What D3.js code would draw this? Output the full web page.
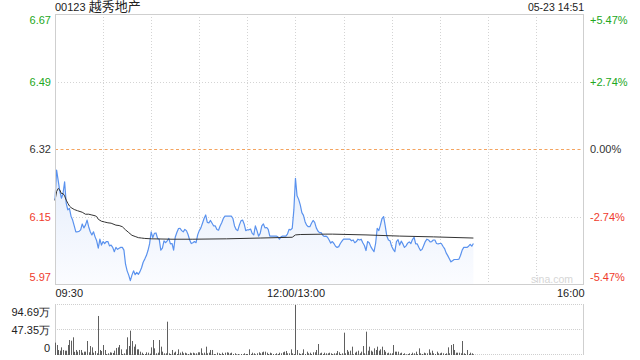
<!DOCTYPE html>
<html><head><meta charset="utf-8">
<script src="https://cdn.jsdelivr.net/npm/d3@7"></script>
<style>
body{margin:0;background:#fff}
svg{display:block;font-family:"Liberation Sans",Arial,"Noto Sans CJK SC",sans-serif}
</style>
</head><body><svg id="c" width="640" height="360"></svg>
<script>
// ---------- data ----------
const stockCode = "00123";
const stockName = "越秀地产";
const stamp = "05-23 14:51";
const prevClose = 6.32;
const pctRange = 0.0547;
const totalMinutes = 330; // 09:30-12:00 + 13:00-16:00
const priceTickLabels = ["5.97", "6.15", "6.32", "6.49", "6.67"];
const pctTickLabels = ["-5.47%", "-2.74%", "0.00%", "+2.74%", "+5.47%"];
const timeTickMinutes = [0, 150, 330];
const timeTickLabels = ["09:30", "12:00/13:00", "16:00"];
const volMax = 94.69; // 万
const volTickLabels = ["0", "47.35万", "94.69万"];

// minute-by-minute price (minute index from 09:30, lunch removed)
const prices = [
6.189,6.266,6.239,6.212,6.194,6.206,6.236,6.181,6.164,6.168,
6.148,6.138,6.123,6.108,6.108,6.109,6.113,6.128,6.118,6.125,
6.138,6.121,6.108,6.100,6.108,6.095,6.085,6.066,6.089,6.074,
6.083,6.078,6.083,6.083,6.072,6.074,6.068,6.057,6.068,6.063,
6.066,6.068,6.068,6.061,6.025,6.008,5.997,5.983,5.997,6.008,
5.998,6.004,5.999,6.006,6.016,6.030,6.038,6.047,6.060,6.077,
6.108,6.093,6.104,6.105,6.091,6.089,6.061,6.066,6.085,6.080,
6.085,6.091,6.077,6.078,6.061,6.094,6.106,6.116,6.117,6.111,
6.108,6.114,6.111,6.101,6.087,6.078,6.080,
6.083,6.080,6.100,
6.111,6.118,6.130,6.142,6.151,6.132,6.131,6.137,6.130,6.123,
6.123,6.114,6.112,6.123,6.131,6.142,6.148,6.148,6.148,6.148,
6.148,6.142,6.123,6.114,6.111,6.125,6.136,6.138,6.128,6.111,
6.113,6.113,6.115,6.104,6.100,6.123,6.111,6.097,6.104,6.123,
6.128,6.118,6.119,6.114,6.097,6.097,6.097,6.097,6.097,6.095,
6.089,6.095,6.097,6.097,6.097,6.102,6.114,6.113,6.117,6.164,
6.245,6.200,6.191,6.177,6.157,6.150,6.134,6.125,6.121,6.121,
6.130,6.137,6.132,6.118,6.110,6.106,6.106,6.099,6.096,6.097,
6.094,6.087,6.079,6.083,6.078,
6.071,6.068,6.070,6.078,6.084,
6.089,6.089,6.089,6.089,6.089,6.085,6.087,6.080,6.083,6.089,
6.087,6.089,6.080,6.073,6.060,6.083,6.080,6.070,6.063,6.057,
6.078,6.117,6.111,6.125,6.142,6.147,6.123,6.097,6.087,6.085,
6.071,6.063,6.057,6.083,6.088,6.074,6.084,6.077,6.068,6.072,
6.079,6.082,6.078,6.088,6.094,6.077,6.077,6.068,6.060,6.063,
6.073,6.083,6.089,6.087,6.082,6.083,6.087,6.087,6.078,6.077,
6.078,6.078,6.071,6.065,6.054,6.047,6.039,6.031,6.034,6.037,
6.037,6.037,6.038,6.048,6.061,6.068,6.068,6.068,6.071,6.076,
6.071,6.078
];

// average-price line, read at its turning points
const avgMinutes = [0,1,2,3,4,5,6,7,8,9,10,12,14,17,19,21,23,25,26,27,29,31,33,35,38,40,42,43,44,46,48,50,52,54,56,60,73,86,107,128,148,150,153,169,173,194,215,236,261];
const avgPrices = [6.188,6.211,6.219,6.215,6.206,6.206,6.200,6.189,6.181,6.174,6.170,6.165,6.162,6.158,6.153,6.153,6.151,6.149,6.147,6.140,6.135,6.133,6.131,6.130,6.125,6.124,6.121,6.117,6.113,6.106,6.099,6.096,6.093,6.092,6.091,6.090,6.089,6.089,6.090,6.092,6.094,6.100,6.101,6.102,6.102,6.100,6.097,6.095,6.092];

// minute volume, 万股
const volumes = [
23.4,18.9,9.5,8.2,14.5,9.5,8.2,8.2,18.9,28.4,
27.1,33.5,6.0,9.5,6.3,9.5,9.5,4.4,6.3,6.3,
26.5,5.1,17.0,14.5,4.4,7.6,3.2,73.9,9.5,7.6,
18.9,9.5,1.9,3.2,5.1,4.4,3.8,8.2,13.3,14.5,
18.9,10.7,1.9,3.2,10.7,33.5,17.0,46.1,26.5,15.8,
20.2,10.7,10.7,6.3,4.4,1.9,1.9,5.1,4.4,2.5,
14.5,28.4,12.6,3.2,4.4,28.4,15.8,6.3,3.2,3.2,
63.1,3.2,1.9,9.5,4.4,6.3,1.9,10.7,4.4,6.3,
3.2,4.4,3.2,1.9,4.4,3.2,4.4,
3.2,3.2,5.1,5.1,12.6,3.2,4.4,15.8,3.2,4.4,
9.5,9.5,1.9,1.3,4.4,3.2,1.9,4.4,1.9,4.4,
5.1,4.4,3.2,4.4,1.9,3.2,1.3,1.9,0.6,1.9,
1.3,3.2,1.9,1.9,10.7,1.9,4.4,3.2,1.3,3.2,
5.1,3.2,5.1,6.3,6.3,4.4,1.9,4.4,3.2,1.9,
1.3,3.2,1.9,4.4,3.2,5.1,6.3,7.6,3.2,3.2,
10.7,3.2,1.9,94.69,9.5,3.2,1.9,3.2,10.7,1.9,
6.3,3.2,4.4,1.9,5.1,5.1,9.5,20.8,3.2,4.4,
1.9,4.4,3.2,3.2,4.4,3.2,1.9,3.2,
3.2,7.6,5.1,1.9,3.2,42.3,3.2,9.5,6.3,8.2,
15.8,1.3,4.4,6.3,8.2,3.2,6.3,17.0,3.2,44.2,
8.2,15.8,8.2,6.3,12.6,9.5,15.8,8.2,10.7,15.8,
9.5,6.3,3.2,4.4,3.2,3.2,18.9,6.3,6.3,6.3,
3.2,4.4,1.9,3.2,1.3,1.9,3.2,1.9,4.4,3.2,
6.3,1.9,12.6,3.2,1.9,4.4,3.2,3.2,10.7,4.4,
8.2,3.2,1.9,6.3,3.2,3.2,4.4,3.2,1.9,3.2,
14.5,3.2,18.9,20.8,9.5,4.4,4.4,4.4,3.2,26.5,
3.2,1.9,9.5,1.9,4.4,3.2,1.3
];

// ---------- colours ----------
const UP = "#22a722", DOWN = "#ef3b2c", FLAT = "#333";
const colorFor = i => i < 2 ? DOWN : (i > 2 ? UP : FLAT);

// ---------- layout ----------
const L = 55, R = 584, T = 14, B = 284, VT = 305, VB = 355;
const svg = d3.select("#c");

const x = d3.scaleLinear().domain([0, totalMinutes]).range([L, R]);
const y = d3.scaleLinear().domain([prevClose * (1 - pctRange), prevClose * (1 + pctRange)]).range([B, T]);
const yv = d3.scaleLinear().domain([0, volMax]).range([VB, VT]);
const priceTicks = [-2, -1, 0, 1, 2].map(k => prevClose * (1 + k * pctRange / 2));

// gradient
const defs = svg.append("defs");
const grad = defs.append("linearGradient").attr("id", "fillg")
  .attr("gradientUnits", "userSpaceOnUse").attr("x1", 0).attr("x2", 0).attr("y1", 160).attr("y2", B);
grad.append("stop").attr("offset", 0).attr("stop-color", "#e3ecfb");
grad.append("stop").attr("offset", 1).attr("stop-color", "#fbfcff");

// ---------- grid main ----------
const grid = svg.append("g");
grid.selectAll("line.v").data(d3.range(30, totalMinutes, 30)).join("line")
  .attr("x1", d => Math.round(x(d)) + 0.5).attr("x2", d => Math.round(x(d)) + 0.5)
  .attr("y1", T).attr("y2", B)
  .attr("stroke", "#d4d4d4").attr("stroke-dasharray", "1,2");
grid.selectAll("line.h").data([priceTicks[1], priceTicks[3]]).join("line")
  .attr("x1", L).attr("x2", R)
  .attr("y1", d => Math.round(y(d)) + 0.5).attr("y2", d => Math.round(y(d)) + 0.5)
  .attr("stroke", "#d4d4d4").attr("stroke-dasharray", "1,2");

// watermark
svg.append("text").attr("x", 573).attr("y", 282.5).attr("text-anchor", "end")
  .attr("font-size", 10.5).attr("fill", "#d6d6d6").text("sina.com");

// ---------- price area & lines ----------
const pts = prices.map((p, i) => [i, p]);
svg.append("path").datum(pts)
  .attr("d", d3.area().x(d => x(d[0])).y0(B).y1(d => y(d[1])))
  .attr("fill", "url(#fillg)");

svg.append("line").attr("x1", L).attr("x2", R)
  .attr("y1", Math.round(y(prevClose)) + 0.5).attr("y2", Math.round(y(prevClose)) + 0.5)
  .attr("stroke", "#f4a460").attr("stroke-dasharray", "3,2.5");

svg.append("path").datum(pts)
  .attr("d", d3.line().x(d => x(d[0])).y(d => y(d[1])))
  .attr("fill", "none").attr("stroke", "#5a92ee").attr("stroke-width", 1.2)
  .attr("stroke-linejoin", "round");

svg.append("path").datum(avgMinutes.map((m, i) => [m, avgPrices[i]]))
  .attr("d", d3.line().x(d => x(d[0])).y(d => y(d[1])))
  .attr("fill", "none").attr("stroke", "#333").attr("stroke-width", 1);

svg.append("rect").attr("x", L + 0.5).attr("y", T + 0.5).attr("width", R - L - 1).attr("height", B - T)
  .attr("fill", "none").attr("stroke", "#cfcfcf");

// ---------- axes main ----------
const leftAxis = svg.append("g").attr("transform", `translate(${L},0)`)
  .call(d3.axisLeft(y).tickValues(priceTicks).tickFormat((d, i) => priceTickLabels[i]).tickSize(0).tickPadding(4));
const rightAxis = svg.append("g").attr("transform", `translate(${R},0)`)
  .call(d3.axisRight(y).tickValues(priceTicks).tickFormat((d, i) => pctTickLabels[i]).tickSize(0).tickPadding(6));
[leftAxis, rightAxis].forEach(g => {
  g.select(".domain").remove();
  g.selectAll("text").attr("font-family", null).attr("font-size", 11)
    .attr("fill", (d, i) => colorFor(i))
    .attr("dy", (d, i) => i === 0 ? "-0.3em" : (i === 4 ? "0.9em" : "0.32em"));
});

const timeAxis = svg.append("g").attr("transform", `translate(0,${B})`)
  .call(d3.axisBottom(x).tickValues(timeTickMinutes).tickFormat((d, i) => timeTickLabels[i]).tickSize(0).tickPadding(5));
timeAxis.select(".domain").remove();
timeAxis.selectAll("text").attr("font-family", null).attr("font-size", 11).attr("fill", "#222")
  .attr("text-anchor", (d, i) => i === 0 ? "start" : (i === 2 ? "end" : "middle"));

// title & stamp
const title = svg.append("text").attr("x", L).attr("y", 11).attr("font-size", 11).attr("fill", "#222");
title.append("tspan").text(stockCode + " ");
title.append("tspan").attr("font-size", 13).text(stockName);
svg.append("text").attr("x", R).attr("y", 11).attr("font-size", 10.5).attr("fill", "#222")
  .attr("text-anchor", "end").text(stamp);

// ---------- volume panel ----------
const volTicks = [0, volMax / 2, volMax];
svg.selectAll("line.vg").data(volTicks).join("line")
  .attr("x1", L).attr("x2", R)
  .attr("y1", d => Math.round(yv(d)) - 0.5).attr("y2", d => Math.round(yv(d)) - 0.5)
  .attr("stroke", "#cfcfcf").attr("stroke-dasharray", "1,1");
svg.append("line").attr("x1", L + 0.5).attr("x2", L + 0.5).attr("y1", VT).attr("y2", VB).attr("stroke", "#cfcfcf");
svg.append("line").attr("x1", R - 0.5).attr("x2", R - 0.5).attr("y1", VT).attr("y2", VB).attr("stroke", "#cfcfcf");

svg.append("g").selectAll("rect").data(volumes).join("rect")
  .attr("x", (d, i) => Math.round(x(i)))
  .attr("width", 1)
  .attr("y", d => yv(d))
  .attr("height", d => yv(0) - yv(d))
  .attr("fill", "#5f5f5f");

const volAxis = svg.append("g").attr("transform", `translate(${L},0)`)
  .call(d3.axisLeft(yv).tickValues(volTicks).tickFormat((d, i) => volTickLabels[i]).tickSize(0).tickPadding(5));
volAxis.select(".domain").remove();
volAxis.selectAll("text").attr("font-family", null).attr("font-size", 11).attr("fill", "#222")
  .attr("dy", (d, i) => i === 0 ? "-0.3em" : (i === 2 ? "0.95em" : "0.32em"));
</script>
</body></html>
